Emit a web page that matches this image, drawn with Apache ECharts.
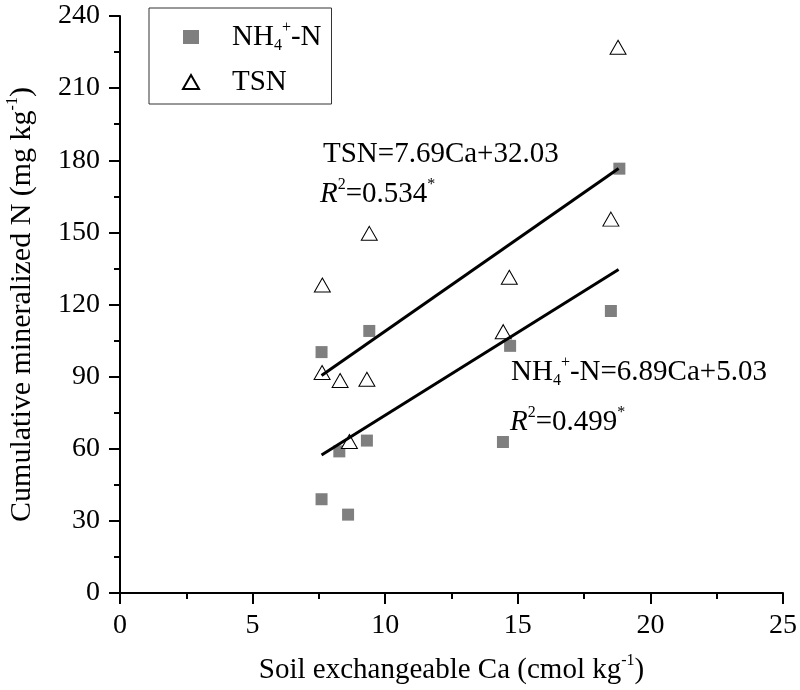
<!DOCTYPE html>
<html>
<head>
<meta charset="utf-8">
<script src="https://cdn.jsdelivr.net/npm/echarts@6/dist/echarts.min.js"></script>
<style>html,body{margin:0;padding:0;background:#fff}#c{width:800px;height:690px}</style>
</head>
<body>
<div id="c"></div>
<script>
// Soil exchangeable Ca (cmol/kg)
const nh4Ca = [18.83, 18.51, 9.40, 7.60, 14.71, 9.31, 8.27, 14.44, 7.60, 8.60];
const nh4N  = [176.5, 117.3, 109.0, 100.2, 102.8, 63.4, 58.9, 62.8, 39.0, 32.6];
const tsnCa = [18.78, 18.51, 9.40, 7.63, 14.68, 14.45, 7.62, 8.30, 9.31, 8.65];
const tsnN  = [227.0, 155.5, 149.6, 128.1, 131.3, 108.7, 91.7, 88.4, 88.9, 63.0];
// fitted line end points
const tsnFitCa = [7.6, 18.8];
const tsnFitN  = [90.5, 176.6];
const nh4FitCa = [7.6, 18.8];
const nh4FitN  = [57.4, 134.6];
const xTicks = [0, 5, 10, 15, 20, 25];
const yTicks = [0, 30, 60, 90, 120, 150, 180, 210, 240];
const seriesNames = ['NH4+-N', 'TSN'];

const FONT = '"Liberation Serif", "Times New Roman", serif';
const pair = (a, b) => a.map((v, i) => [v, b[i]]);

const chart = echarts.init(document.getElementById('c'), null, {renderer: 'canvas'});
function richFor(size) {
  return {
    sup: {fontSize: 16, fontFamily: FONT, color: '#000', fill: '#000', verticalAlign: 'top', lineHeight: 18},
    sub: {fontSize: 16, fontFamily: FONT, color: '#000', fill: '#000', verticalAlign: 'bottom', lineHeight: 6},
    i: {fontStyle: 'italic', fontFamily: FONT, fontSize: size, color: '#000', fill: '#000'},
    n: {fontFamily: FONT, fontSize: size, color: '#000', fill: '#000'}
  };
}
const axisCommon = {
  axisLine: {show: true, lineStyle: {color: '#000', width: 2}},
  axisTick: {show: true, inside: false, length: 11, lineStyle: {color: '#000', width: 2}},
  minorTick: {show: true, splitNumber: 2, length: 6, lineStyle: {color: '#000', width: 2}},
  splitLine: {show: false},
  minorSplitLine: {show: false},
  axisLabel: {color: '#000', fontFamily: FONT, fontSize: 28}
};

chart.setOption({
  animation: false,
  backgroundColor: '#fff',
  grid: {left: 120, right: 17, top: 16, bottom: 97, containLabel: false, outerBoundsMode: 'none'},
  xAxis: Object.assign({}, axisCommon, {
    type: 'value', min: xTicks[0], max: xTicks[xTicks.length - 1], interval: 5,
    name: 'Soil exchangeable Ca (cmol kg{sup|-1})',
    nameLocation: 'middle', nameGap: 60,
    nameTextStyle: {fontFamily: FONT, fontSize: 29, color: '#000', lineHeight: 34, rich: richFor(29)},
    axisLabel: Object.assign({}, axisCommon.axisLabel, {margin: 19})
  }),
  yAxis: Object.assign({}, axisCommon, {
    type: 'value', min: yTicks[0], max: yTicks[yTicks.length - 1], interval: 30,
    name: 'Cumulative mineralized N (mg kg{sup|-1})',
    nameLocation: 'middle', nameGap: 81, nameRotate: 90,
    nameTextStyle: {fontFamily: FONT, fontSize: 30, color: '#000', lineHeight: 34, rich: richFor(30)},
    axisLabel: Object.assign({}, axisCommon.axisLabel, {margin: 20})
  }),
  legend: {
    data: seriesNames,
    orient: 'vertical',
    left: 149, top: 8,
    padding: [12, 10, 5, 33],
    itemGap: 11,
    itemWidth: 16, itemHeight: 14,
    borderColor: '#333', borderWidth: 1,
    selectedMode: false,
    formatter: function (name) {
      return name === 'NH4+-N' ? '{gap|}NH{sub|4}{sup|+}-N' : '{gap|}' + name;
    },
    textStyle: {
      fontFamily: FONT, fontSize: 29, color: '#000', lineHeight: 34,
      rich: Object.assign({gap: {width: 28}}, richFor(29))
    }
  },
  series: [
    {
      name: seriesNames[0], type: 'scatter', symbol: 'rect', symbolSize: 12,
      itemStyle: {color: '#7f7f7f', opacity: 1},
      data: pair(nh4Ca, nh4N), z: 2
    },
    {
      name: seriesNames[1], type: 'scatter', symbol: 'triangle', symbolSize: [16, 14],
      itemStyle: {color: '#fff', borderColor: '#000', borderWidth: 1, opacity: 1},
      data: pair(tsnCa, tsnN), z: 2
    },
    {
      name: 'TSN fit', type: 'line', symbol: 'none', silent: true,
      lineStyle: {color: '#000', width: 3},
      data: pair(tsnFitCa, tsnFitN), z: 3
    },
    {
      name: 'NH4 fit', type: 'line', symbol: 'none', silent: true,
      lineStyle: {color: '#000', width: 3},
      data: pair(nh4FitCa, nh4FitN), z: 3
    }
  ],
  graphic: [
    {type: 'text', x: 323, y: 154, style: {text: 'TSN=7.69Ca+32.03', font: '29px ' + FONT, fill: '#000', verticalAlign: 'middle'}},
    {type: 'text', x: 320, y: 194, style: {text: '{i|R}{sup|2}{n|=0.534}{sup|*}', fontFamily: FONT, fontSize: 29, fill: '#000', verticalAlign: 'middle', lineHeight: 34, rich: richFor(29)}},
    {type: 'text', x: 511, y: 372, style: {text: '{n|NH}{sub|4}{sup|+}{n|-N=6.89Ca+5.03}', fontFamily: FONT, fontSize: 29, fill: '#000', verticalAlign: 'middle', lineHeight: 34, rich: richFor(29)}},
    {type: 'text', x: 510, y: 422, style: {text: '{i|R}{sup|2}{n|=0.499}{sup|*}', fontFamily: FONT, fontSize: 29, fill: '#000', verticalAlign: 'middle', lineHeight: 34, rich: richFor(29)}}
  ]
});
</script>
</body>
</html>
